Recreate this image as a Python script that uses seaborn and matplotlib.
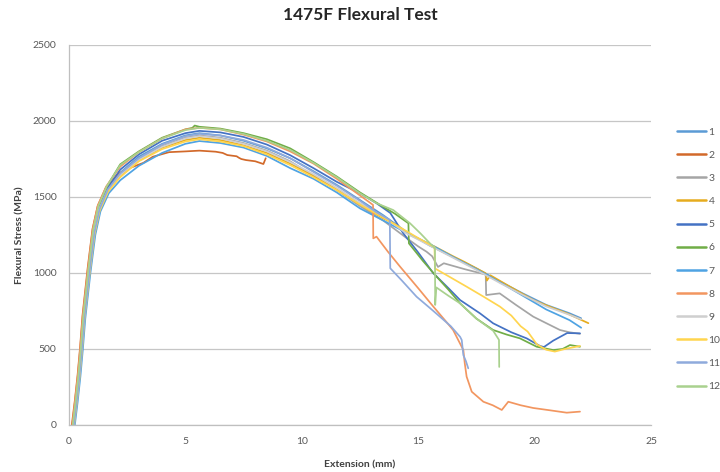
import matplotlib
matplotlib.use("Agg")
import matplotlib.pyplot as plt
import seaborn as sns
import pandas as pd
from matplotlib.lines import Line2D

# ---- specimen curves: extension (mm) vs flexural stress (MPa) ----
x1 = [0.18, 0.30, 0.42, 0.52, 0.63, 0.85, 1.06, 1.28, 1.64, 2.2, 3.0, 4.0, 5.0, 5.6, 6.5, 7.5, 8.5, 9.5, 10.5, 11.5, 12.5, 13.5, 14.5, 15.5, 16.5, 17.5, 18.5, 19.5, 20.5, 21.5, 22.0]
y1 = [0, 150, 320, 490, 700, 1010, 1270, 1425, 1555, 1660, 1765, 1850, 1905, 1920, 1905, 1870, 1820, 1755, 1670, 1580, 1480, 1380, 1270, 1180, 1105, 1030, 945, 865, 790, 735, 702]

x2 = [0.12, 0.25, 0.37, 0.47, 0.58, 0.80, 1.01, 1.23, 1.58, 2.1, 2.6, 3.2, 3.6, 4.3, 5.0, 5.6, 6.3, 6.6, 6.8, 7.2, 7.3, 7.4, 7.6, 8.0, 8.35, 8.45]
y2 = [0, 160, 330, 500, 720, 1030, 1290, 1440, 1560, 1650, 1690, 1725, 1765, 1795, 1800, 1805, 1798, 1790, 1776, 1768, 1758, 1750, 1743, 1735, 1717, 1755]

x3 = [0.20, 0.32, 0.44, 0.54, 0.65, 0.87, 1.08, 1.30, 1.66, 2.2, 3.0, 4.0, 5.0, 5.6, 6.5, 7.5, 8.5, 9.5, 10.5, 11.5, 12.5, 13.5, 14.5, 15.0, 15.36, 15.6, 15.85, 16.1, 17.0, 17.9, 17.92, 18.5, 19.2, 19.94, 20.5, 21.09, 21.5, 21.95]
y3 = [0, 150, 320, 490, 700, 1010, 1265, 1420, 1545, 1650, 1750, 1835, 1890, 1905, 1890, 1855, 1805, 1735, 1640, 1545, 1440, 1345, 1230, 1175, 1140, 1110, 1040, 1064, 1025, 990, 855, 866, 790, 713, 670, 625, 610, 600]

x4 = [0.19, 0.31, 0.43, 0.53, 0.64, 0.86, 1.07, 1.29, 1.65, 2.2, 3.0, 4.0, 5.0, 5.6, 6.5, 7.5, 8.5, 9.5, 10.5, 11.5, 12.5, 13.5, 14.0, 14.65, 15.72, 16.5, 17.0, 17.9, 17.95, 18.1, 19.0, 19.94, 20.7, 21.38, 22.31]
y4 = [0, 150, 320, 490, 700, 1005, 1260, 1415, 1540, 1640, 1740, 1825, 1875, 1890, 1875, 1840, 1790, 1720, 1640, 1550, 1450, 1360, 1320, 1250, 1173, 1110, 1072, 998, 950, 985, 905, 822, 775, 735, 670]

x5 = [0.20, 0.32, 0.44, 0.54, 0.65, 0.87, 1.08, 1.30, 1.66, 2.2, 3.0, 4.0, 5.0, 5.6, 6.5, 7.5, 8.5, 9.5, 10.5, 11.5, 12.5, 13.2, 13.8, 14.35, 15.0, 15.64, 16.3, 16.8, 17.65, 18.22, 19.0, 19.66, 20.23, 20.4, 20.8, 21.4, 21.95]
y5 = [0, 150, 320, 490, 700, 1010, 1270, 1430, 1560, 1680, 1780, 1870, 1920, 1935, 1925, 1895, 1845, 1775, 1690, 1600, 1524, 1460, 1395, 1263, 1135, 1000, 900, 822, 735, 669, 610, 570, 520, 513, 555, 605, 603]

x6 = [0.17, 0.29, 0.41, 0.51, 0.62, 0.84, 1.05, 1.27, 1.63, 2.2, 3.0, 4.0, 5.0, 5.3, 5.4, 5.6, 6.5, 7.5, 8.5, 9.5, 10.5, 11.5, 12.5, 13.5, 14.0, 14.58, 14.6, 15.2, 15.79, 16.3, 16.8, 17.5, 18.22, 18.8, 19.37, 20.09, 20.8, 21.2, 21.52, 21.95]
y6 = [0, 150, 320, 490, 710, 1020, 1285, 1440, 1570, 1715, 1800, 1890, 1945, 1955, 1970, 1962, 1950, 1920, 1880, 1820, 1730, 1635, 1530, 1435, 1390, 1327, 1195, 1080, 976, 890, 800, 700, 625, 595, 570, 515, 493, 500, 526, 515]

x7 = [0.25, 0.37, 0.49, 0.59, 0.70, 0.92, 1.13, 1.35, 1.71, 2.2, 3.0, 4.0, 5.0, 5.6, 6.5, 7.5, 8.5, 9.5, 10.5, 11.5, 12.5, 13.5, 14.5, 15.5, 16.5, 17.5, 18.5, 19.5, 20.5, 21.5, 22.0]
y7 = [0, 150, 320, 490, 700, 1000, 1250, 1405, 1525, 1610, 1705, 1790, 1850, 1868, 1855, 1825, 1770, 1690, 1620, 1530, 1425, 1345, 1265, 1190, 1105, 1025, 940, 850, 760, 690, 640]

x8 = [0.14, 0.26, 0.38, 0.48, 0.59, 0.81, 1.02, 1.24, 1.60, 2.2, 3.0, 4.0, 5.0, 5.6, 6.5, 7.5, 8.5, 9.5, 10.5, 11.5, 12.5, 13.06, 13.07, 13.21, 13.7, 14.22, 15.0, 15.65, 16.2, 16.5, 16.94, 17.0, 17.08, 17.3, 17.8, 18.2, 18.59, 18.87, 19.4, 19.94, 20.6, 21.38, 21.7, 21.95]
y8 = [0, 160, 330, 500, 715, 1025, 1290, 1445, 1570, 1700, 1795, 1885, 1945, 1955, 1945, 1910, 1865, 1800, 1720, 1620, 1510, 1448, 1228, 1239, 1140, 1042, 900, 779, 680, 625, 493, 406, 318, 219, 153, 130, 99, 153, 130, 112, 98, 81, 85, 88]

x9 = [0.19, 0.31, 0.43, 0.53, 0.64, 0.86, 1.07, 1.29, 1.65, 2.2, 3.0, 4.0, 5.0, 5.6, 6.5, 7.5, 8.5, 9.5, 10.5, 11.5, 12.5, 13.5, 14.5, 15.5, 16.5, 17.5, 18.5, 19.5, 20.5, 21.5, 22.0]
y9 = [0, 150, 320, 490, 700, 1005, 1262, 1418, 1542, 1645, 1745, 1830, 1885, 1900, 1885, 1850, 1800, 1730, 1650, 1560, 1460, 1370, 1260, 1180, 1100, 1020, 935, 855, 780, 725, 695]

x10 = [0.22, 0.34, 0.46, 0.56, 0.67, 0.89, 1.10, 1.32, 1.68, 2.2, 3.0, 4.0, 5.0, 5.6, 6.5, 7.5, 8.5, 9.5, 10.5, 11.5, 12.5, 13.5, 14.5, 15.0, 15.7, 15.72, 16.4, 17.08, 17.8, 18.51, 19.0, 19.4, 19.7, 20.1, 20.5, 20.87, 21.3, 21.95]
y10 = [0, 150, 320, 490, 700, 1000, 1255, 1410, 1535, 1630, 1735, 1815, 1865, 1880, 1865, 1835, 1780, 1710, 1630, 1545, 1450, 1365, 1275, 1230, 1170, 1030, 970, 910, 845, 779, 720, 650, 615, 530, 495, 483, 500, 520]

x11 = [0.21, 0.33, 0.45, 0.55, 0.66, 0.88, 1.09, 1.31, 1.67, 2.2, 3.0, 4.0, 5.0, 5.6, 6.5, 7.5, 8.5, 9.5, 10.5, 11.5, 12.5, 13.2, 13.78, 13.8, 14.3, 14.93, 15.5, 15.93, 16.4, 16.8, 16.87, 16.94, 17.05, 17.15]
y11 = [0, 150, 320, 490, 700, 1005, 1265, 1420, 1550, 1655, 1755, 1845, 1900, 1915, 1905, 1875, 1825, 1755, 1665, 1575, 1475, 1400, 1349, 1031, 950, 844, 770, 713, 650, 580, 559, 460, 420, 373]

x12 = [0.16, 0.28, 0.40, 0.50, 0.61, 0.83, 1.04, 1.26, 1.62, 2.2, 3.0, 4.0, 5.0, 5.6, 6.5, 7.5, 8.5, 9.5, 10.5, 11.5, 12.5, 13.2, 13.93, 14.65, 15.1, 15.5, 15.72, 15.73, 15.78, 16.3, 16.8, 17.5, 18.22, 18.47, 18.48]
y12 = [0, 150, 320, 490, 710, 1020, 1285, 1440, 1570, 1710, 1795, 1885, 1940, 1955, 1945, 1915, 1870, 1810, 1725, 1630, 1524, 1460, 1414, 1327, 1260, 1196, 1164, 790, 905, 850, 800, 700, 620, 560, 382]

specimens = ["1", "2", "3", "4", "5", "6", "7", "8", "9", "10", "11", "12"]
ext_series = [x1, x2, x3, x4, x5, x6, x7, x8, x9, x10, x11, x12]
stress_series = [y1, y2, y3, y4, y5, y6, y7, y8, y9, y10, y11, y12]

colors = ["#5B9BD5", "#D2692A", "#A5A5A5", "#E6AC1E", "#4472C4", "#70AD47",
          "#4FA3E3", "#F29660", "#CFCFCF", "#FFD54F", "#8FAADC", "#A9D18E"]

rows = []
for name, xs, ys in zip(specimens, ext_series, stress_series):
    for i, (xv, yv) in enumerate(zip(xs, ys)):
        rows.append({"Specimen": name, "Order": i, "Extension (mm)": xv, "Flexural Stress (MPa)": yv})
df = pd.DataFrame(rows)

sns.set_theme(style="white")
plt.rcParams["font.family"] = ["Lato", "DejaVu Sans"]

fig = plt.figure(figsize=(7.2, 4.72), dpi=100)
ax = fig.add_axes([69 / 720, 1 - 425 / 472, (651 - 69) / 720, (425 - 45) / 472])

palette = dict(zip(specimens, colors))
sns.lineplot(data=df, x="Extension (mm)", y="Flexural Stress (MPa)", hue="Specimen",
             hue_order=specimens, palette=palette, sort=False, estimator=None,
             linewidth=1.25, legend=False, ax=ax)

ax.set_xlim(0, 25)
ax.set_ylim(0, 2500)
ax.set_xticks(range(0, 26, 5))
ax.set_yticks(range(0, 2501, 500))
ax.yaxis.grid(True, color="#C6C6C6", linewidth=0.9)
ax.xaxis.grid(False)
ax.set_axisbelow(True)
for side in ["top", "right"]:
    ax.spines[side].set_visible(False)
for side in ["left", "bottom"]:
    ax.spines[side].set_color("#BFBFBF")
    ax.spines[side].set_linewidth(0.9)
ax.tick_params(axis="x", direction="out", length=4, width=0.9, color="#BFBFBF",
               labelsize=7.5, labelcolor="#595959", pad=5)
ax.tick_params(axis="y", direction="out", length=3, width=0.9, color="#BFBFBF",
               labelsize=7.5, labelcolor="#595959", pad=6)

ax.set_xlabel("Extension (mm)", fontsize=7.5, fontweight="bold", color="#404040", labelpad=10)
ax.set_ylabel("")
fig.text(20 / 720, 1 - 235 / 472, "Flexural Stress (MPa)", rotation=90, ha="center", va="center",
         fontsize=7.5, fontweight="bold", color="#404040")
fig.text(360 / 720, 1 - 15 / 472, "1475F Flexural Test", ha="center", va="center",
         fontsize=12.5, fontweight="bold", color="#262626")

handles = [Line2D([0], [0], color=c, lw=1.8) for c in colors]
fig.legend(handles, specimens, loc="upper left", bbox_to_anchor=(668 / 720, 1 - 118 / 472),
           frameon=False, fontsize=7.5, handlelength=2.7, handletextpad=0.3,
           labelspacing=1.33, labelcolor="#595959")

fig.savefig("out.png", dpi=100)
